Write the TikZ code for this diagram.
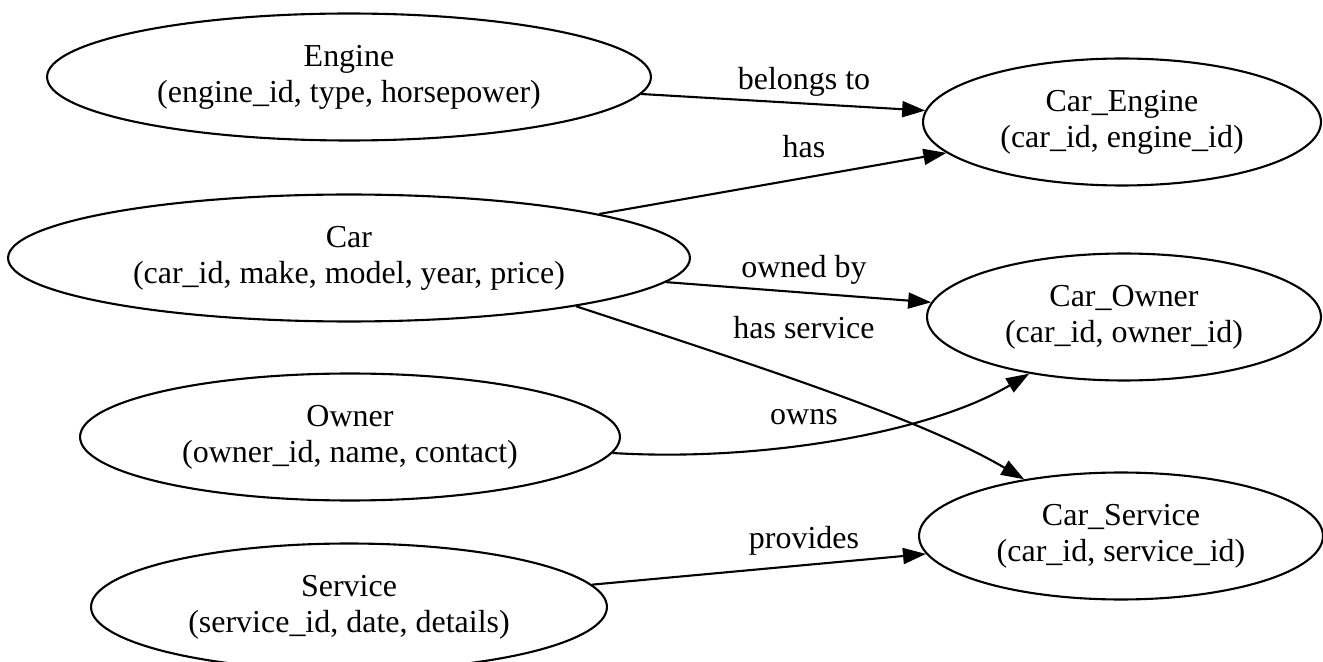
\documentclass[tikz,border=0pt]{standalone}
\usepackage{fontspec}
\setmainfont{Liberation Serif}
\usetikzlibrary{arrows.meta,shapes.geometric}

\begin{document}
\begin{tikzpicture}[x=0.02cm,y=-0.02cm,
 font=\fontsize{18.2}{20.5}\selectfont,
 entity/.style={ellipse,draw,line width=1.2pt,inner sep=0pt,
 minimum height=2.54cm,align=center},
 rel/.style={-{Triangle[length=0.46cm,width=0.32cm]},line width=1.2pt},
 lbl/.style={anchor=base,inner sep=0pt}]
\useasboundingbox (0,0) rectangle (1323,662);
\node[entity,minimum width=12.08cm] (engine) at (349,77) {Engine\\(engine\_id, type, horsepower)};
\node[entity,minimum width=13.64cm] (car) at (349,258) {Car\\(car\_id, make, model, year, price)};
\node[entity,minimum width=10.8cm] (owner) at (350,437) {Owner\\(owner\_id, name, contact)};
\node[entity,minimum width=10.32cm] (service) at (349,607) {Service\\(service\_id, date, details)};
\node[entity,minimum width=7.96cm] (carengine) at (1122,122) {Car\_Engine\\(car\_id, engine\_id)};
\node[entity,minimum width=7.88cm] (carowner) at (1124,317) {Car\_Owner\\(car\_id, owner\_id)};
\node[entity,minimum width=8.08cm] (carservice) at (1121,536) {Car\_Service\\(car\_id, service\_id)};
\draw[rel] (engine)--(carengine);
\draw[rel] (car)--(carengine);
\draw[rel] (car)--(carowner);
\draw[rel] (car.-12) .. controls (773,371) and (923,420) .. (carservice);
\draw[rel] (owner) .. controls (760,462) and (930,433) .. (carowner);
\draw[rel] (service)--(carservice);
\node[lbl] (lbelongs) at (804,90) {belongs to};
\node[lbl] (lhas) at (804,158) {has};
\node[lbl] (lowned) at (804,278) {owned by};
\node[lbl] (lhasservice) at (804,339) {has service};
\node[lbl] (lowns) at (804,424) {owns};
\node[lbl] (lprovides) at (804,548) {provides};
\end{tikzpicture}
\end{document}
